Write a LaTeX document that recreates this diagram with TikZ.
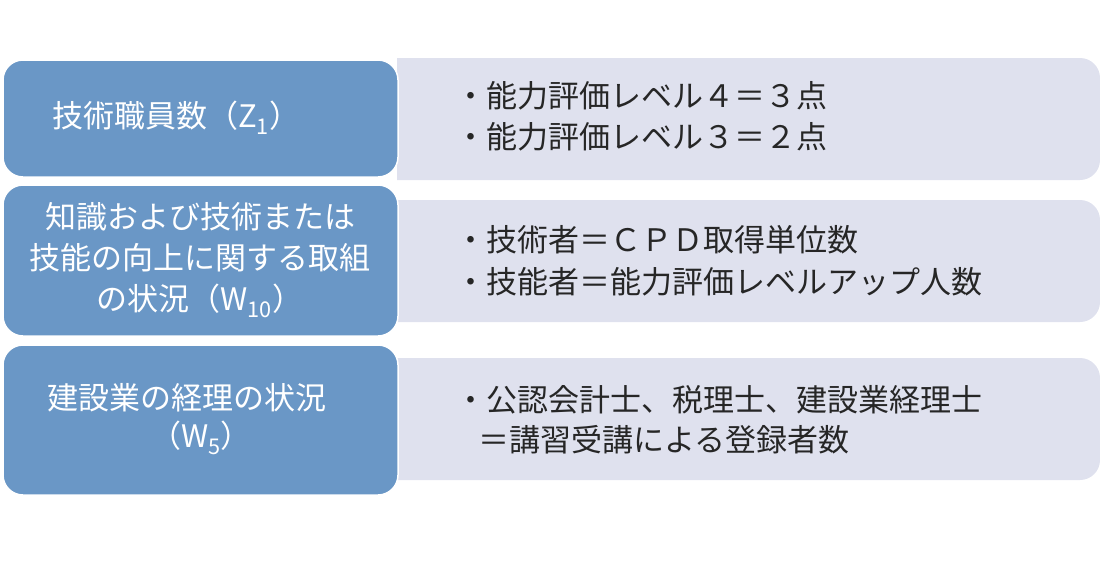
\documentclass[tikz,border=0pt]{standalone}
\usepackage{fontspec}
\setmainfont{Noto Sans CJK JP}
\definecolor{lb}{HTML}{6A97C6}
\definecolor{rb}{HTML}{DFE1EE}
\begin{document}
\begin{tikzpicture}[x=1pt,y=-1pt,
  lbox/.style={fill=lb,draw=white,line width=1.5pt,rounded corners=20pt},
  rbox/.style={fill=rb},
  lt/.style={text=white,font=\fontsize{31}{41}\selectfont,inner sep=0pt},
  rt/.style={text=black!85,font=\fontsize{31}{41}\selectfont,inner sep=0pt,anchor=west}]
\useasboundingbox (0,0) rectangle (1100,560);
% right boxes
\fill[rbox] (397,58) [rounded corners=20pt] -- (1100,58) -- (1100,180) [sharp corners] -- (397,180) -- cycle;
\fill[rbox] (397,200) [rounded corners=20pt] -- (1100,200) -- (1100,322) [sharp corners] -- (397,322) -- cycle;
\fill[rbox] (397,358) [rounded corners=20pt] -- (1100,358) -- (1100,480) [sharp corners] -- (397,480) -- cycle;
% left boxes
\draw[lbox] (3,60) rectangle (398,177);
\draw[lbox] (3,185) rectangle (398,336);
\draw[lbox] (3,345) rectangle (398,495);
% left texts
\node[lt,anchor=west] (l1) at (52,118) {技術職員数（Z\textsubscript{1}）};
\node[lt,align=center] (l2) at (200,260) {知識および技術または\\技能の向上に関する取組\\の状況（W\textsubscript{10}）};
\node[lt,anchor=west] (l3a) at (47,398) {建設業の経理の状況};
\node[lt,anchor=west] (l3b) at (150,438) {（W\textsubscript{5}）};
% right texts
\node[rt] (r1a) at (455,96) {・能力評価レベル４＝３点};
\node[rt] (r1b) at (455,137) {・能力評価レベル３＝２点};
\node[rt] (r2a) at (455,240) {・技術者＝ＣＰＤ取得単位数};
\node[rt] (r2b) at (455,282) {・技能者＝能力評価レベルアップ人数};
\node[rt] (r3a) at (455,400) {・公認会計士、税理士、建設業経理士};
\node[rt] (r3b) at (478,440) {＝講習受講による登録者数};
\end{tikzpicture}
\end{document}
